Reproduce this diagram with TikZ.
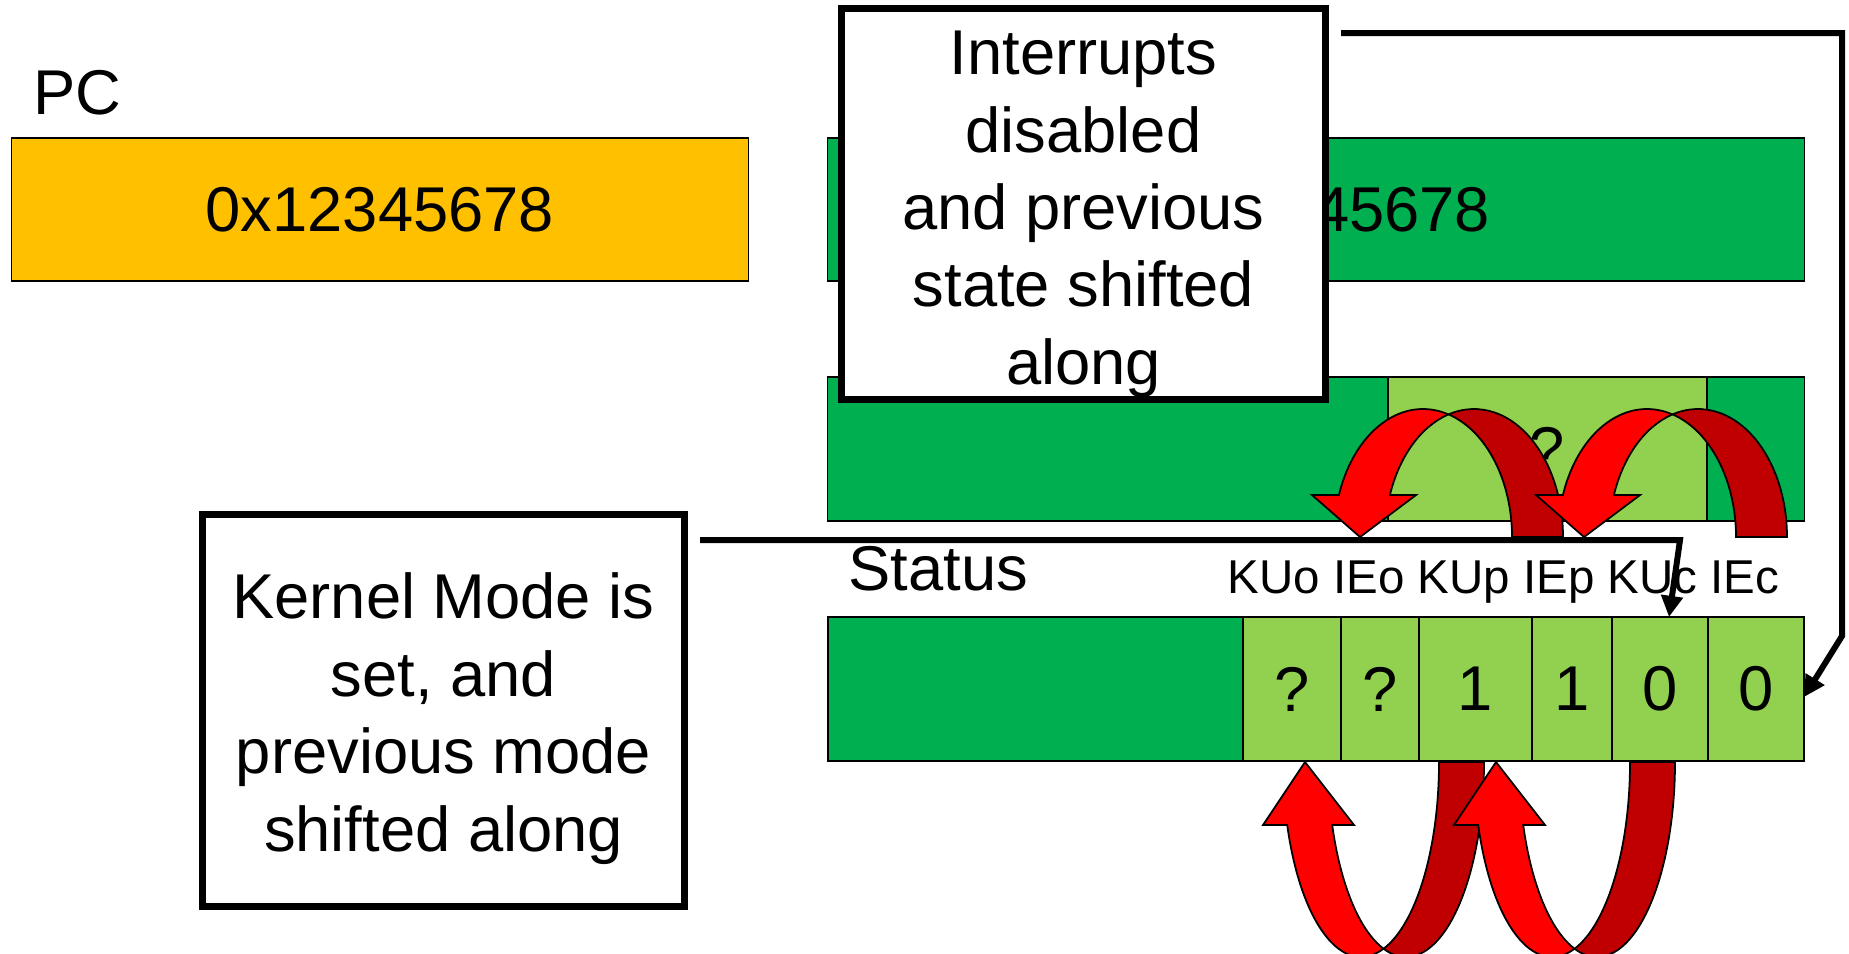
\documentclass[tikz,border=0pt]{standalone}
\usepackage{fontspec}
\setmainfont{Liberation Sans}
\usetikzlibrary{arrows.meta}

\definecolor{regorange}{HTML}{FFC000}
\definecolor{reggreen}{HTML}{00B050}
\definecolor{bitgreen}{HTML}{92D050}
\definecolor{arcred}{HTML}{FF0000}
\definecolor{arcdark}{HTML}{C00000}

\tikzset{
  bigtext/.style={font=\fontsize{18}{22}\selectfont},
  smalltext/.style={font=\fontsize{13.5}{16}\selectfont},
  reg/.style={draw, line width=0.4pt, inner sep=0pt, outer sep=0pt, minimum height=1.44cm},
  bit/.style={reg, fill=bitgreen},
  note/.style={draw, line width=2pt, fill=white, align=center, inner sep=0pt, outer sep=0pt},
  link/.style={line width=1.7pt, -{Triangle[length=6pt,width=6pt]}},
  arcfront/.style={fill=arcred, draw=black, line width=0.5pt},
  arcback/.style={fill=arcdark, draw=black, line width=0.5pt}
}

\begin{document}
\begin{tikzpicture}[x=0.01cm, y=-0.01cm, bigtext]
    \useasboundingbox (0,0) rectangle (1849,953);

    % PC and EPC
    \node [anchor=base west, inner sep=0pt] (pclabel) at (33,114) {PC};
    \node [reg, fill=regorange, minimum width=7.36cm, minimum height=1.43cm] (pc) at (380,209.5) {0x12345678};
    \node [reg, fill=reggreen, minimum width=9.76cm, minimum height=1.43cm] (epc) at (1316,209.5) {0x12345678};

    % Cause
    \node [reg, fill=reggreen, minimum width=9.76cm] (cause) at (1316,449) {};
    \node [bit, minimum width=3.19cm] (exccode) at (1547.5,449) {?};

    \node [note, minimum width=4.83cm, minimum height=3.90cm] (irqnote) at (1083.5,204)
        {\rule{0pt}{0.64cm}Interrupts\\disabled\\and previous\\state shifted\\along};

    % Status
    \node [anchor=base west, inner sep=0pt] (statuslabel) at (848,590) {Status};
    \node [smalltext, anchor=base west, inner sep=0pt] (bitnames) at (1227,593) {KUo IEo KUp IEp KUc IEc};
    \node [reg, fill=reggreen, minimum width=4.15cm] (status) at (1035.5,689) {};
    \node [bit, minimum width=0.98cm] (kuo) at (1292,689) {?};
    \node [bit, minimum width=0.78cm] (ieo) at (1380,689) {?};
    \node [bit, minimum width=1.13cm] (kup) at (1475.5,689) {1};
    \node [bit, minimum width=0.80cm] (iep) at (1572,689) {1};
    \node [bit, minimum width=0.96cm] (kuc) at (1660,689) {0};
    \node [bit, minimum width=0.96cm] (iec) at (1756,689) {0};

    % shifts above
    \draw [arcback] (1512,537) arc [start angle=0, end angle=-73.35, x radius=89, y radius=128]
        arc [start angle=-106.65, end angle=0, x radius=89, y radius=128] -- cycle;
    \draw [arcfront] (1338.9,495) arc [start angle=-160.84, end angle=-73.35, x radius=89, y radius=128]
        arc [start angle=-106.65, end angle=-160.84, x radius=89, y radius=128]
        -- (1416,495) -- (1360,537) -- (1312,495) -- cycle;
    \draw [arcback] (1736,537) arc [start angle=0, end angle=-73.35, x radius=89, y radius=128]
        arc [start angle=-106.65, end angle=0, x radius=89, y radius=128] -- cycle;
    \draw [arcfront] (1562.9,495) arc [start angle=-160.84, end angle=-73.35, x radius=89, y radius=128]
        arc [start angle=-106.65, end angle=-160.84, x radius=89, y radius=128]
        -- (1640,495) -- (1584,537) -- (1536,495) -- cycle;

    % shifts below
    \draw [arcback] (1439,762) arc [start angle=0, end angle=73.23, x radius=78, y radius=195]
        arc [start angle=106.77, end angle=0, x radius=78, y radius=195] -- cycle;
    \draw [arcfront] (1287.2,825) arc [start angle=161.15, end angle=73.23, x radius=78, y radius=195]
        arc [start angle=106.77, end angle=161.15, x radius=78, y radius=195]
        -- (1354,825) -- (1305,762) -- (1263,825) -- cycle;
    \draw [arcback] (1630,762) arc [start angle=0, end angle=73.23, x radius=78, y radius=195]
        arc [start angle=106.77, end angle=0, x radius=78, y radius=195] -- cycle;
    \draw [arcfront] (1478.2,825) arc [start angle=161.15, end angle=73.23, x radius=78, y radius=195]
        arc [start angle=106.77, end angle=161.15, x radius=78, y radius=195]
        -- (1545,825) -- (1496,762) -- (1454,825) -- cycle;

    \node [note, minimum width=4.81cm, minimum height=3.91cm] (kernelnote) at (443.5,710.5)
        {\rule{0pt}{0.62cm}Kernel Mode is\\set, and\\previous mode\\shifted along};

    % connectors
    \coordinate (irqstart) at (1341,33);
    \coordinate (kernelstart) at (700,540);
    \draw [link] (irqstart) -- (1842,33) -- (1842,636) -- ([yshift=-0.08cm]iec.east);
    \draw [link] (kernelstart) -- (1680,540) -- ([xshift=0.09cm]kuc.north);
\end{tikzpicture}
\end{document}
